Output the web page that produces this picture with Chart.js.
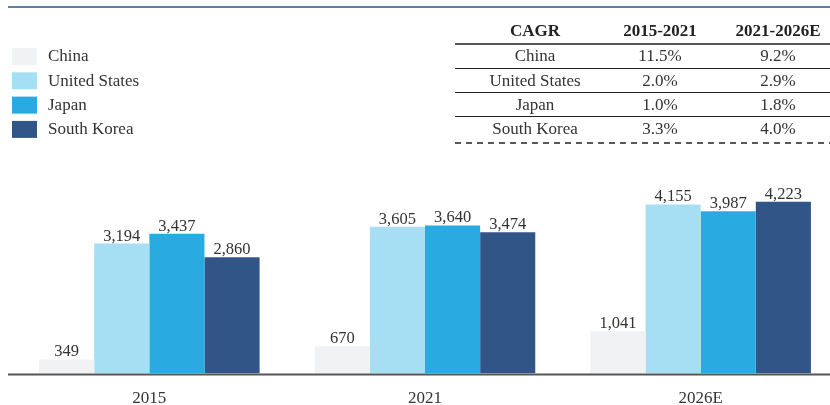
<!DOCTYPE html>
<html>
<head>
<meta charset="utf-8">
<script src="https://cdn.jsdelivr.net/npm/chart.js@4"></script>
<style>
  html, body { margin: 0; padding: 0; background: #fff; }
  #wrap { width: 830px; height: 405px; overflow: hidden; position: relative; }
  #box { width: 840px; height: 424px; position: absolute; left: 0; top: 0; }
</style>
</head>
<body>
<div id="wrap"><div id="box"><canvas id="chart"></canvas></div></div>
<script>
const years = ["2015", "2021", "2026E"];
const countries = ["China", "United States", "Japan", "South Korea"];
const china = [349, 670, 1041];
const unitedStates = [3194, 3605, 4155];
const japan = [3437, 3640, 3987];
const southKorea = [2860, 3474, 4223];
const colors = ["#f1f2f4", "#a6dff3", "#29abe2", "#325588"];

const cagrHeader = ["CAGR", "2015-2021", "2021-2026E"];
const cagr1521 = ["11.5%", "2.0%", "1.0%", "3.3%"];
const cagr2126 = ["9.2%", "2.9%", "1.8%", "4.0%"];

const serif = '"Liberation Serif", "Times New Roman", serif';

// legend, table, frame lines and value labels
const extras = {
    id: "extras",
    afterDraw(chart) {
        const ctx = chart.ctx;
        ctx.save();

        // top rule
        ctx.strokeStyle = "#5b7fa6";
        ctx.lineWidth = 2;
        ctx.beginPath();
        ctx.moveTo(8, 7);
        ctx.lineTo(830, 7);
        ctx.stroke();

        // baseline
        const yBase = chart.scales.y.getPixelForValue(0);
        ctx.strokeStyle = "#555";
        ctx.lineWidth = 2;
        ctx.beginPath();
        ctx.moveTo(8, yBase + 1);
        ctx.lineTo(830, yBase + 1);
        ctx.stroke();

        // value labels
        ctx.fillStyle = "#333";
        ctx.font = "16.5px " + serif;
        ctx.textAlign = "center";
        ctx.textBaseline = "alphabetic";
        chart.data.datasets.forEach((ds, i) => {
            chart.getDatasetMeta(i).data.forEach((bar, j) => {
                ctx.fillText(ds.data[j].toLocaleString("en-US"), bar.x, bar.y - 3);
            });
        });

        // legend
        ctx.font = "17px " + serif;
        ctx.textAlign = "left";
        ctx.textBaseline = "middle";
        chart.data.datasets.forEach((ds, i) => {
            const y = 48 + i * 24.3;
            ctx.fillStyle = ds.backgroundColor;
            ctx.fillRect(12, y, 25, 17);
            ctx.fillStyle = "#333";
            ctx.fillText(ds.label, 48, y + 9);
        });

        // CAGR table
        const cols = [535, 660, 778];
        ctx.textAlign = "center";
        ctx.fillStyle = "#222";
        ctx.font = "bold 17px " + serif;
        cagrHeader.forEach((h, k) => ctx.fillText(h, cols[k], 32));
        ctx.font = "17px " + serif;
        ctx.fillStyle = "#333";
        countries.forEach((c, i) => {
            const y = 57 + i * 24.2;
            ctx.fillText(c, cols[0], y);
            ctx.fillText(cagr1521[i], cols[1], y);
            ctx.fillText(cagr2126[i], cols[2], y);
        });
        ctx.strokeStyle = "#222";
        ctx.lineWidth = 1.5;
        ctx.beginPath();
        ctx.moveTo(455, 44);
        ctx.lineTo(830, 44);
        ctx.stroke();
        ctx.lineWidth = 1;
        [68.5, 92.5, 116.5].forEach(y => {
            ctx.beginPath();
            ctx.moveTo(455, y);
            ctx.lineTo(830, y);
            ctx.stroke();
        });
        ctx.lineWidth = 1.5;
        ctx.setLineDash([6, 5]);
        ctx.beginPath();
        ctx.moveTo(455, 143);
        ctx.lineTo(830, 143);
        ctx.stroke();

        ctx.restore();
    }
};

new Chart(document.getElementById("chart"), {
    type: "bar",
    data: {
        labels: years,
        datasets: [
            { label: countries[0], data: china, backgroundColor: colors[0] },
            { label: countries[1], data: unitedStates, backgroundColor: colors[1] },
            { label: countries[2], data: japan, backgroundColor: colors[2] },
            { label: countries[3], data: southKorea, backgroundColor: colors[3] }
        ]
    },
    options: {
        responsive: true,
        maintainAspectRatio: false,
        animation: false,
        layout: { padding: { top: 170, left: 11.5, right: 1.5, bottom: 0 } },
        datasets: { bar: { categoryPercentage: 0.8, barPercentage: 1.0 } },
        plugins: { legend: { display: false }, tooltip: { enabled: false } },
        scales: {
            x: {
                grid: { display: false, drawTicks: false },
                border: { display: false },
                ticks: { color: "#333", font: { family: serif, size: 17 }, padding: 15 }
            },
            y: { display: false, min: 0, max: 5000 }
        }
    },
    plugins: [extras]
});
</script>
</body>
</html>
